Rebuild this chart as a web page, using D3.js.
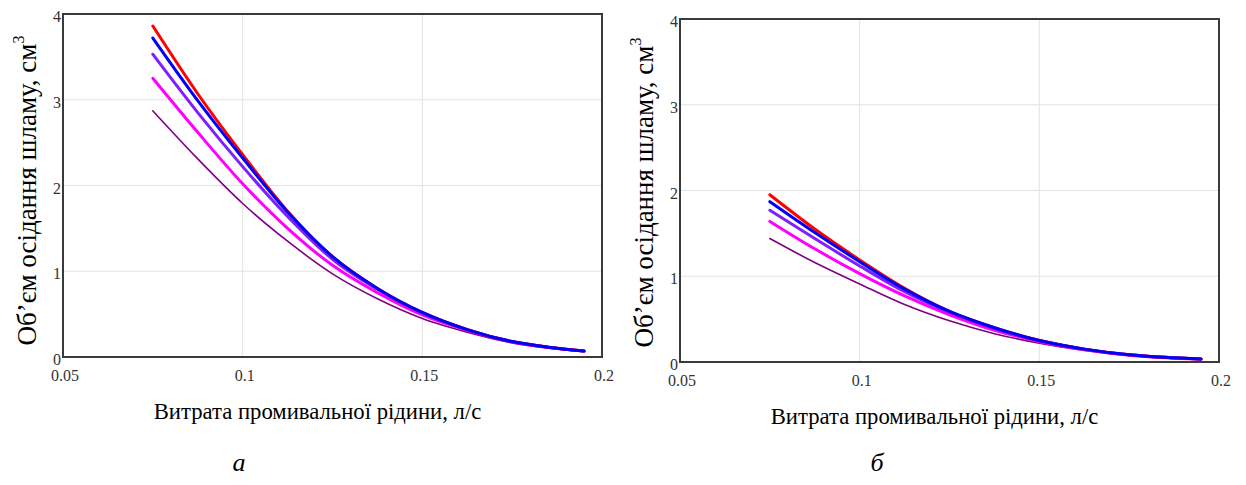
<!DOCTYPE html>
<html>
<head>
<meta charset="utf-8">
<script src="https://cdn.jsdelivr.net/npm/d3@7/dist/d3.min.js"></script>
<style>
  html, body { margin: 0; padding: 0; background: #fff; }
  svg { display: block; }
</style>
</head>
<body>
<svg id="chart" width="1246" height="485" font-family="'Liberation Serif', 'Times New Roman', serif"></svg>
<script>
// ---- data ----
const flowRate = [0.075, 0.0875, 0.1, 0.1125, 0.125, 0.1375, 0.15, 0.1625, 0.175, 0.185, 0.195];

// panel "а"
const aRed        = [3.86, 3.07, 2.36, 1.70, 1.17, 0.80, 0.52, 0.32, 0.18, 0.115, 0.07];
const aBlue       = [3.72, 2.99, 2.32, 1.69, 1.17, 0.80, 0.52, 0.32, 0.18, 0.115, 0.07];
const aViolet     = [3.53, 2.85, 2.22, 1.64, 1.14, 0.79, 0.51, 0.32, 0.18, 0.115, 0.07];
const aMagenta    = [3.25, 2.62, 2.02, 1.50, 1.07, 0.75, 0.49, 0.31, 0.175, 0.11, 0.07];
const aPurple     = [2.87, 2.31, 1.79, 1.35, 0.97, 0.68, 0.45, 0.29, 0.165, 0.105, 0.065];

// panel "б"
const bRed        = [1.95, 1.55, 1.19, 0.86, 0.59, 0.40, 0.25, 0.15, 0.085, 0.055, 0.035];
const bBlue       = [1.87, 1.51, 1.17, 0.85, 0.59, 0.40, 0.25, 0.15, 0.085, 0.055, 0.035];
const bViolet     = [1.77, 1.44, 1.12, 0.82, 0.58, 0.39, 0.25, 0.15, 0.085, 0.055, 0.035];
const bMagenta    = [1.64, 1.32, 1.03, 0.77, 0.55, 0.37, 0.24, 0.145, 0.08, 0.05, 0.033];
const bPurple     = [1.44, 1.16, 0.91, 0.67, 0.48, 0.33, 0.22, 0.135, 0.075, 0.048, 0.03];

const seriesNames = ["red", "blue", "violet", "magenta", "purple"];
const seriesColors = ["#ff0000", "#0000ff", "#7f1fff", "#ff00ff", "#800080"];
const seriesWidths = [3, 3, 3, 3, 1.6];

const xTicks = [0.05, 0.1, 0.15, 0.2];
const xTickLabels = ["0.05", "0.1", "0.15", "0.2"];
const yTicks = [0, 1, 2, 3, 4];
const yTickLabels = ["0", "1", "2", "3", "4"];

const xTitle = "Витрата промивальної рідини, л/с";
const yTitle = "Об’єм осідання шламу, см";
const captions = ["а", "б"];

// ---- drawing ----
const svg = d3.select("#chart");

function drawPanel(cfg) {
  const x = d3.scaleLinear().domain([0.05, 0.2]).range([cfg.left, cfg.right]);
  const y = d3.scaleLinear().domain([0, 4]).range([cfg.bottom, cfg.top]);
  const g = svg.append("g");

  // grid
  g.append("g").selectAll("line").data(xTicks).join("line")
    .attr("x1", d => x(d)).attr("x2", d => x(d))
    .attr("y1", cfg.top).attr("y2", cfg.bottom)
    .attr("stroke", "#e2e2e2").attr("stroke-width", 1);
  g.append("g").selectAll("line").data(yTicks).join("line")
    .attr("x1", cfg.left).attr("x2", cfg.right)
    .attr("y1", d => y(d)).attr("y2", d => y(d))
    .attr("stroke", "#e2e2e2").attr("stroke-width", 1);

  // curves
  const line = d3.line()
    .x(d => x(d[0])).y(d => y(d[1]))
    .curve(d3.curveMonotoneX);
  const order = [4, 3, 2, 0, 1];
  order.forEach(i => {
    const vals = cfg.series[i];
    g.append("path")
      .datum(flowRate.map((f, k) => [f, vals[k]]))
      .attr("d", line)
      .attr("fill", "none")
      .attr("stroke", seriesColors[i])
      .attr("stroke-width", seriesWidths[i])
      .attr("stroke-linecap", "round");
  });

  // frame
  g.append("rect")
    .attr("x", cfg.left).attr("y", cfg.top)
    .attr("width", cfg.right - cfg.left).attr("height", cfg.bottom - cfg.top)
    .attr("fill", "none").attr("stroke", "#3a3a3a").attr("stroke-width", 2);

  // tick labels
  g.append("g").selectAll("text").data(xTicks).join("text")
    .attr("x", d => x(d) + 2).attr("y", cfg.bottom + 24)
    .attr("text-anchor", "middle")
    .attr("font-size", 16).attr("fill", "#333")
    .text((d, i) => xTickLabels[i]);
  g.append("g").selectAll("text").data(yTicks).join("text")
    .attr("x", cfg.left - 2).attr("y", d => y(d) + 8)
    .attr("text-anchor", "end")
    .attr("font-size", 16).attr("fill", "#333")
    .text((d, i) => yTickLabels[i]);

  // axis titles
  g.append("text")
    .attr("x", (cfg.left + cfg.right) / 2 - 15).attr("y", cfg.bottom + 62)
    .attr("text-anchor", "middle")
    .attr("font-size", 22.7).attr("fill", "#000")
    .text(xTitle);
  const yt = g.append("text")
    .attr("transform", `translate(${cfg.left - 27},${(cfg.top + cfg.bottom) / 2 + cfg.yTitleShift}) rotate(-90)`)
    .attr("text-anchor", "middle")
    .attr("font-size", 27).attr("fill", "#000");
  yt.append("tspan").text(yTitle);
  yt.append("tspan").attr("font-size", 16).attr("dy", -12).text("3");

  // caption
  svg.append("text")
    .attr("x", cfg.capX).attr("y", 471)
    .attr("text-anchor", "middle")
    .attr("font-size", 26).attr("font-style", "italic")
    .text(cfg.caption);
}

drawPanel({
  left: 63, right: 602, top: 14, bottom: 357, yTitleShift: 5,
  series: [aRed, aBlue, aViolet, aMagenta, aPurple],
  capX: 239, caption: captions[0]
});
drawPanel({
  left: 680, right: 1219, top: 19, bottom: 362, yTitleShift: 2,
  series: [bRed, bBlue, bViolet, bMagenta, bPurple],
  capX: 877, caption: captions[1]
});
</script>
</body>
</html>
